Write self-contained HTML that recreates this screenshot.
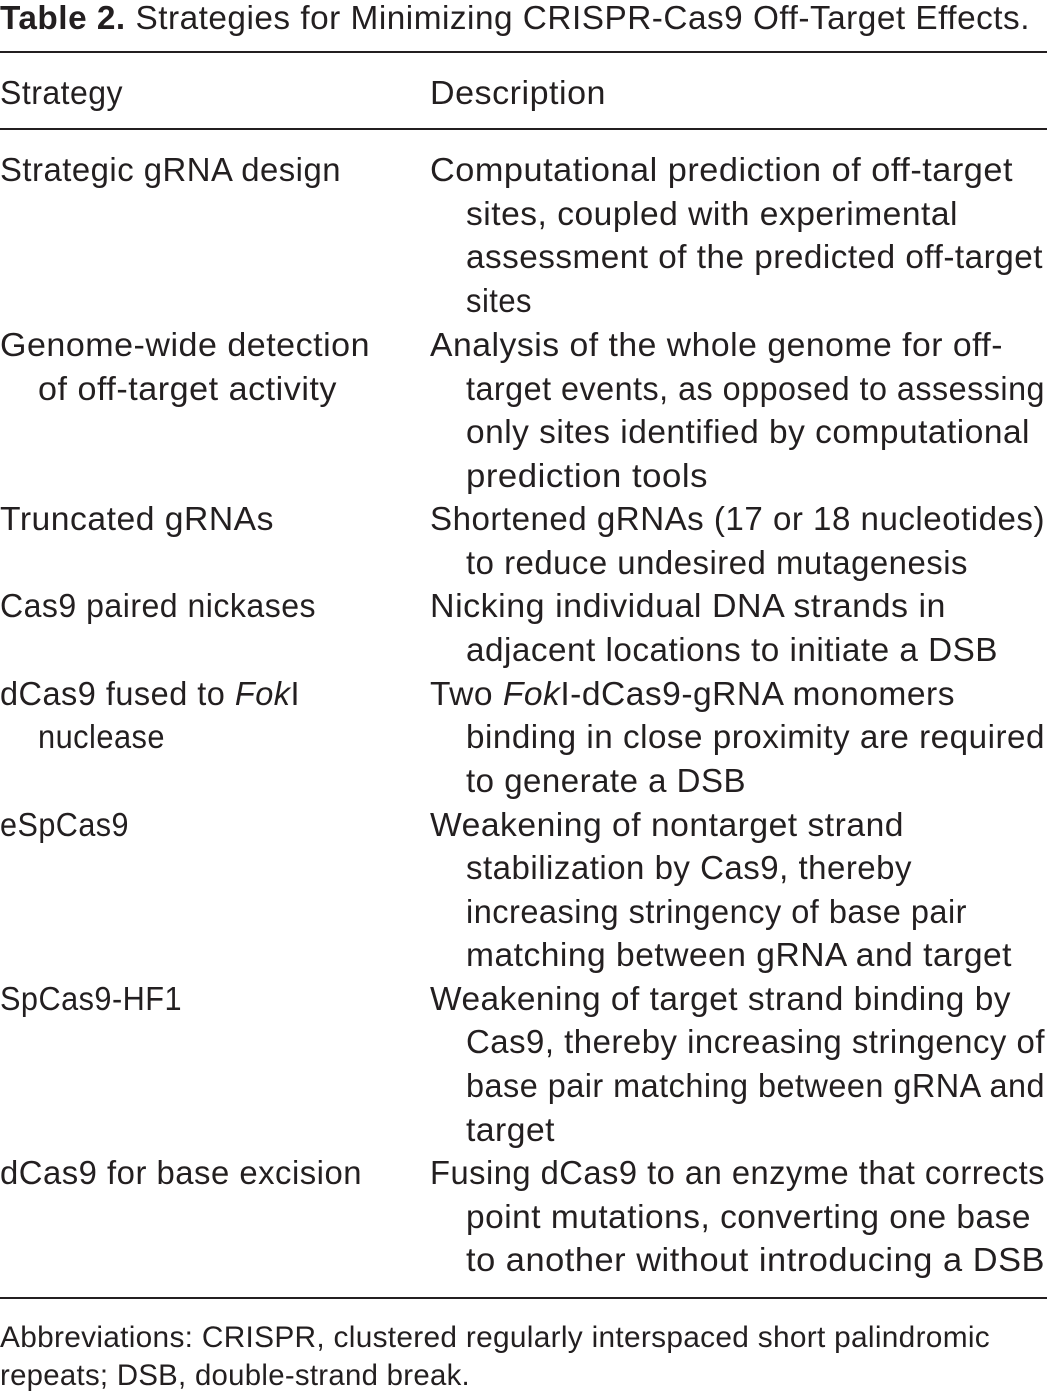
<!DOCTYPE html>
<html><head><meta charset="utf-8"><style>
body{margin:0;width:1047px;height:1394px;background:#fff;position:relative;overflow:hidden;font-family:"Liberation Sans",sans-serif;color:#231f20;font-size:33px;letter-spacing:0.5px}
.l{position:absolute;white-space:nowrap;line-height:36px;transform-origin:0 0}
.r{position:absolute;left:0;width:1047px;height:2px;background:#231f20}
</style></head><body>
<div class="l" style="left:0;top:0;--r:1030"><b>Table 2.</b> Strategies for Minimizing CRISPR-Cas9 Off-Target Effects.</div>
<div class="r" style="top:51px"></div>
<div class="l" style="left:0;top:75px;--r:123">Strategy</div>
<div class="l" style="left:430px;top:75px;--r:606">Description</div>
<div class="r" style="top:128px"></div>

<div class="l" style="left:0;top:152px;--r:341">Strategic gRNA design</div>
<div class="l" style="left:430px;top:152px;--r:1013">Computational prediction of off-target</div>
<div class="l" style="left:466px;top:196px;--r:958">sites, coupled with experimental</div>
<div class="l" style="left:466px;top:239px;--r:1043">assessment of the predicted off-target</div>
<div class="l" style="left:466px;top:283px;--r:532">sites</div>

<div class="l" style="left:0;top:327px;--r:370">Genome-wide detection</div>
<div class="l" style="left:38px;top:371px;--r:337">of off-target activity</div>
<div class="l" style="left:430px;top:327px;--r:1003">Analysis of the whole genome for off-</div>
<div class="l" style="left:466px;top:371px;--r:1045">target events, as opposed to assessing</div>
<div class="l" style="left:466px;top:414px;--r:1030">only sites identified by computational</div>
<div class="l" style="left:466px;top:458px;--r:708">prediction tools</div>

<div class="l" style="left:0;top:501px;--r:274">Truncated gRNAs</div>
<div class="l" style="left:430px;top:501px;--r:1045">Shortened gRNAs (17 or 18 nucleotides)</div>
<div class="l" style="left:466px;top:545px;--r:968">to reduce undesired mutagenesis</div>

<div class="l" style="left:0;top:588px;--r:316">Cas9 paired nickases</div>
<div class="l" style="left:430px;top:588px;--r:946">Nicking individual DNA strands in</div>
<div class="l" style="left:466px;top:632px;--r:998">adjacent locations to initiate a DSB</div>

<div class="l" style="left:0;top:676px;--r:300">dCas9 fused to <i>Fok</i>I</div>
<div class="l" style="left:38px;top:719px;--r:165">nuclease</div>
<div class="l" style="left:430px;top:676px;--r:955">Two <i>Fok</i>I-dCas9-gRNA monomers</div>
<div class="l" style="left:466px;top:719px;--r:1045">binding in close proximity are required</div>
<div class="l" style="left:466px;top:763px;--r:746">to generate a DSB</div>

<div class="l" style="left:0;top:807px;--r:129">eSpCas9</div>
<div class="l" style="left:430px;top:807px;--r:904">Weakening of nontarget strand</div>
<div class="l" style="left:466px;top:850px;--r:912">stabilization by Cas9, thereby</div>
<div class="l" style="left:466px;top:894px;--r:967">increasing stringency of base pair</div>
<div class="l" style="left:466px;top:937px;--r:1012">matching between gRNA and target</div>

<div class="l" style="left:0;top:981px;--r:182">SpCas9-HF1</div>
<div class="l" style="left:430px;top:981px;--r:1011">Weakening of target strand binding by</div>
<div class="l" style="left:466px;top:1024px;--r:1045">Cas9, thereby increasing stringency of</div>
<div class="l" style="left:466px;top:1068px;--r:1045">base pair matching between gRNA and</div>
<div class="l" style="left:466px;top:1112px;--r:555">target</div>

<div class="l" style="left:0;top:1155px;--r:362">dCas9 for base excision</div>
<div class="l" style="left:430px;top:1155px;--r:1045">Fusing dCas9 to an enzyme that corrects</div>
<div class="l" style="left:466px;top:1199px;--r:1031">point mutations, converting one base</div>
<div class="l" style="left:466px;top:1242px;--r:1045">to another without introducing a DSB</div>

<div class="r" style="top:1297px"></div>
<div class="l" style="left:0;top:1320px;font-size:30px;letter-spacing:0.3px;--r:990">Abbreviations: CRISPR, clustered regularly interspaced short palindromic</div>
<div class="l" style="left:0;top:1358px;font-size:30px;letter-spacing:0.3px;--r:470">repeats; DSB, double-strand break.</div>
<script>
document.querySelectorAll('.l').forEach(function(e){
  var r=parseFloat(getComputedStyle(e).getPropertyValue('--r'));
  if(!r)return;
  var left=parseFloat(e.style.left)||0;
  var w=e.getBoundingClientRect().width;
  if(w>0)e.style.transform='scaleX('+((r-left)/w)+')';
});
</script>
</body></html>
